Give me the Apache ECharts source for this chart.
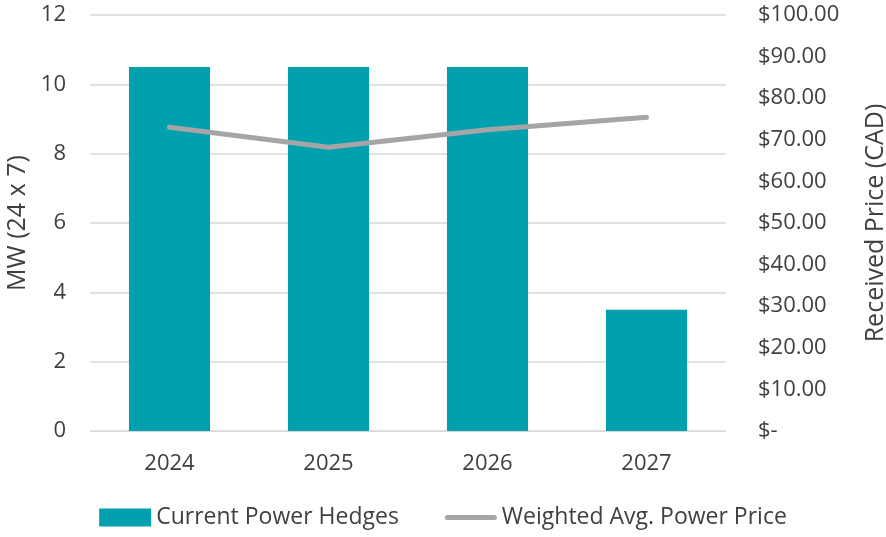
<!DOCTYPE html>
<html><head><meta charset="utf-8">
<script src="https://cdn.jsdelivr.net/npm/echarts@6/dist/echarts.min.js"></script>
<style>html,body{margin:0;padding:0;background:#fff}#c{width:886px;height:537px}</style>
</head><body><div id="c"></div>
<script>
const categories = ['2024', '2025', '2026', '2027'];
const hedgesMW = [10.5, 10.5, 10.5, 3.5];
const avgPrice = [73.0, 68.2, 72.4, 75.4];
const leftTicks = {min: 0, max: 12, interval: 2};
const rightTicks = {min: 0, max: 100, interval: 10};

const font = '"Open Sans", "Noto Sans", sans-serif';
const txt = '#404040';
const chart = echarts.init(document.getElementById('c'));
chart.setOption({
  animation: false,
  textStyle: {fontFamily: font},
  grid: {left: 90, right: 160, top: 15, bottom: 106, containLabel: false, outerBoundsMode: 'none'},
  legend: {
    bottom: 3, left: 'center', itemGap: 46, itemWidth: 52, itemHeight: 18, itemTextGap: 5,
    textStyle: {fontSize: 23, color: txt, fontFamily: font},
    data: [
      {name: 'Current Power Hedges', icon: 'rect'},
      {name: 'Weighted Avg. Power Price', icon: 'path://M5,0 H95 A5,5 0 0 1 95,10 H5 A5,5 0 0 1 5,0 Z', itemStyle: {color: '#A5A5A5'}}
    ]
  },
  xAxis: {
    type: 'category', data: categories,
    axisLine: {show: true, lineStyle: {color: '#D9D9D9'}},
    axisTick: {show: false},
    axisLabel: {fontSize: 22, color: txt, margin: 22, fontFamily: font}
  },
  yAxis: [
    {
      type: 'value', min: leftTicks.min, max: leftTicks.max, interval: leftTicks.interval,
      name: 'MW (24 x 7)', nameLocation: 'middle', nameGap: 60,
      nameTextStyle: {fontSize: 25, color: txt, fontFamily: font},
      axisLabel: {fontSize: 22, color: txt, margin: 24, fontFamily: font},
      splitLine: {lineStyle: {color: '#D9D9D9', width: 1.5}},
      axisLine: {show: false}, axisTick: {show: false}
    },
    {
      type: 'value', min: rightTicks.min, max: rightTicks.max, interval: rightTicks.interval,
      name: 'Received Price (CAD)', nameLocation: 'middle', nameGap: 137,
      nameTextStyle: {fontSize: 25, color: txt, fontFamily: font},
      axisLabel: {fontSize: 22, color: txt, margin: 32, fontFamily: font,
        formatter: v => v === 0 ? '$-' : '$' + v.toFixed(2)},
      splitLine: {show: false},
      axisLine: {show: false}, axisTick: {show: false}
    }
  ],
  series: [
    {
      name: 'Current Power Hedges', type: 'bar', data: hedgesMW, yAxisIndex: 0,
      barWidth: '51%', itemStyle: {color: '#00A0AF'}
    },
    {
      name: 'Weighted Avg. Power Price', type: 'line', data: avgPrice, yAxisIndex: 1,
      symbol: 'none', lineStyle: {color: '#A5A5A5', width: 5, cap: 'round', join: 'round'},
      itemStyle: {color: '#A5A5A5'}
    }
  ]
});
</script></body></html>
